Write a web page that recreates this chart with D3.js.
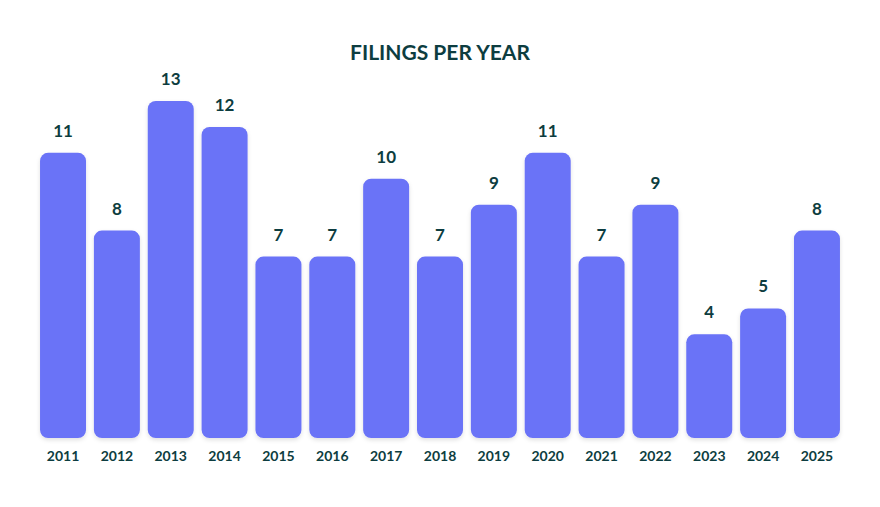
<!DOCTYPE html>
<html><head><meta charset="utf-8">
<script src="https://cdn.jsdelivr.net/npm/d3@7"></script>
<style>body{margin:0;background:#fff}svg{display:block}</style>
</head><body>
<script>
const years = ["2011","2012","2013","2014","2015","2016","2017","2018","2019","2020","2021","2022","2023","2024","2025"];
const filings = [11,8,13,12,7,7,10,7,9,11,7,9,4,5,8];
const title = "FILINGS PER YEAR";

const W = 880, H = 507;
const svg = d3.select("body").append("svg").attr("width", W).attr("height", H);
const defs = svg.append("defs");
const f = defs.append("filter").attr("id","sh").attr("x","-20%").attr("y","-10%").attr("width","140%").attr("height","130%");
f.append("feDropShadow").attr("dx",0).attr("dy",2).attr("stdDeviation",2).attr("flood-color","#000").attr("flood-opacity",0.12);

const x = d3.scaleBand().domain(years).range([36, 844]).paddingInner(0.146).paddingOuter(0.075);
const y = d3.scaleLinear().domain([0, 13]).range([438, 101]);
const txt = "#0d3d40";
const font = "Lato, 'Open Sans', sans-serif";

svg.append("text").attr("x", 440).attr("y", 60).attr("text-anchor","middle")
  .attr("font-family", font).attr("font-weight", 700).attr("font-size", 21).attr("fill", txt).text(title);

svg.append("g").selectAll("rect").data(filings).join("rect")
  .attr("x", (d,i) => x(years[i])).attr("y", d => y(d))
  .attr("width", x.bandwidth()).attr("height", d => y(0) - y(d))
  .attr("rx", 8).attr("fill", "#6a73f7").attr("filter","url(#sh)");

svg.append("g").selectAll("text").data(filings).join("text")
  .attr("x", (d,i) => x(years[i]) + x.bandwidth()/2).attr("y", d => y(d) - 16)
  .attr("text-anchor","middle").attr("font-family", font).attr("font-weight", 700)
  .attr("font-size", 17).attr("fill", txt).text(d => d);

const ax = svg.append("g").attr("transform", `translate(0,${y(0)})`)
  .call(d3.axisBottom(x).tickSize(0).tickPadding(13));
ax.select(".domain").remove();
ax.selectAll("text").attr("font-family", font).attr("font-weight", 700).attr("font-size", 14).attr("fill", txt);
</script>
</body></html>
